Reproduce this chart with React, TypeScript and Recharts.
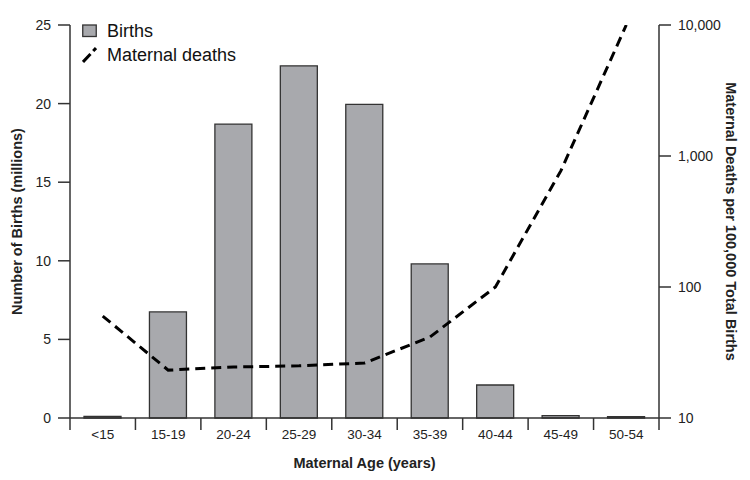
import React from "react";
import { ComposedChart, Bar, Line, XAxis, YAxis } from "recharts";

const ageGroups = ["<15", "15-19", "20-24", "25-29", "30-34", "35-39", "40-44", "45-49", "50-54"];
const birthsMillions = [0.1, 6.75, 18.7, 22.4, 19.95, 9.8, 2.1, 0.15, 0.08];
const deathsPer100k = [60, 23.2, 24.5, 25, 26.3, 41.5, 100, 770, 10000];
const leftTicks = [0, 5, 10, 15, 20, 25];
const rightTicks = [10, 100, 1000, 10000];
const legendLabels = ["Births", "Maternal deaths"];

const data = ageGroups.map((g, i) => ({ age: g, births: birthsMillions[i], deaths: deathsPer100k[i] }));

const W = 750;
const H = 480;
const MARGIN = { top: 17, right: 0, left: 0, bottom: 10 };
const LEFT_W = 62;
const RIGHT_W = 99;
const PLOT_W = W - MARGIN.left - MARGIN.right - LEFT_W - RIGHT_W;
const BAND = PLOT_W / ageGroups.length;
const FONT = "'Liberation Sans', Arial, Helvetica, sans-serif";
const AXIS = "#333";

const XTick = (props: any) => {
  const { x, y, payload, index } = props;
  const half = BAND / 2;
  return (
    <g>
      <line x1={x - half} x2={x - half} y1={y} y2={y + 12} stroke={AXIS} strokeWidth={1.5} />
      {index === ageGroups.length - 1 && (
        <line x1={x + half} x2={x + half} y1={y} y2={y + 12} stroke={AXIS} strokeWidth={1.5} />
      )}
      <text x={x} y={y + 21} textAnchor="middle" fontSize={13.5} fontFamily={FONT} fill="#222">
        {payload.value}
      </text>
    </g>
  );
};

const LegendBox = () => (
  <div
    style={{
      position: "absolute",
      left: 74,
      top: 11,
      fontFamily: FONT,
      fontSize: 18,
      color: "#111",
      pointerEvents: "none",
    }}
  >
    <div style={{ display: "flex", alignItems: "center", height: 24 }}>
      <svg width={15} height={14} style={{ marginRight: 10 }}>
        <rect x={0.75} y={1} width={13.5} height={11.5} fill="#a8a9ad" stroke={AXIS} strokeWidth={1.3} />
      </svg>
      <span>{legendLabels[0]}</span>
    </div>
    <div style={{ display: "flex", alignItems: "center", height: 24 }}>
      <svg width={15} height={16} style={{ marginRight: 10 }}>
        <line x1={1} y1={15} x2={14} y2={1} stroke="#000" strokeWidth={3} strokeDasharray="11 4" />
      </svg>
      <span>{legendLabels[1]}</span>
    </div>
  </div>
);

export default function App() {
  return (
    <div style={{ position: "relative", width: W, height: H }}>
      <ComposedChart width={W} height={H} data={data} margin={MARGIN}>
        <XAxis
          dataKey="age"
          height={60}
          tickSize={0}
          tickMargin={0}
          tickLine={false}
          axisLine={{ stroke: AXIS, strokeWidth: 1.5 }}
          tick={<XTick />}
          interval={0}
          label={{
            value: "Maternal Age (years)",
            position: "center",
            dy: 15,
            style: { fontFamily: FONT, fontSize: 14.5, fontWeight: "bold", fill: "#222" },
          }}
        />
        <YAxis
          yAxisId="left"
          width={LEFT_W}
          domain={[0, 25]}
          ticks={leftTicks}
          tickSize={12}
          tickMargin={7}
          axisLine={{ stroke: AXIS, strokeWidth: 1.5 }}
          tickLine={{ stroke: AXIS, strokeWidth: 1.5 }}
          tick={{ fontFamily: FONT, fontSize: 14, fill: "#222" }}
          label={{
            value: "Number of Births (millions)",
            angle: -90,
            position: "center",
            dx: -22,
            style: { fontFamily: FONT, fontSize: 14.5, fontWeight: "bold", fill: "#222", textAnchor: "middle" },
          }}
        />
        <YAxis
          yAxisId="right"
          orientation="right"
          width={RIGHT_W}
          scale="log"
          domain={[10, 10000]}
          ticks={rightTicks}
          allowDataOverflow
          tickSize={12}
          tickMargin={7}
          tickFormatter={(v: number) => v.toLocaleString("en-US")}
          axisLine={{ stroke: AXIS, strokeWidth: 1.5 }}
          tickLine={{ stroke: AXIS, strokeWidth: 1.5 }}
          tick={{ fontFamily: FONT, fontSize: 14, fill: "#222" }}
          label={{
            value: "Maternal Deaths per 100,000 Total Births",
            angle: 90,
            position: "center",
            dx: 22.5,
            style: { fontFamily: FONT, fontSize: 14.5, fontWeight: "bold", fill: "#222", textAnchor: "middle" },
          }}
        />
        <Bar
          yAxisId="left"
          dataKey="births"
          name="Births"
          barSize={37}
          fill="#a8a9ad"
          stroke={AXIS}
          strokeWidth={1.3}
          isAnimationActive={false}
        />
        <Line
          yAxisId="right"
          dataKey="deaths"
          name="Maternal deaths"
          type="linear"
          stroke="#000"
          strokeWidth={3}
          strokeDasharray="10 6"
          dot={false}
          activeDot={false}
          isAnimationActive={false}
        />
      </ComposedChart>
      <LegendBox />
    </div>
  );
}
